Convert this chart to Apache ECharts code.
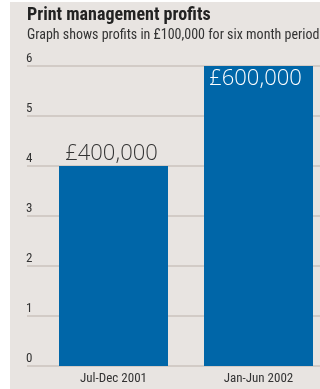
<!DOCTYPE html>
<html><head><meta charset="utf-8">
<style>html,body{margin:0;padding:0;background:#fff;}#c{position:absolute;left:0;top:0;width:320px;height:389px;background:linear-gradient(to right,#fff 0,#fff 10px,#e8e4e1 10px);}#c:before{content:"";position:absolute;left:0;top:0;width:320px;height:2px;background:#fff;}</style>
<script src="https://cdn.jsdelivr.net/npm/echarts@6/dist/echarts.min.js"></script>
</head><body><div id="c"></div>
<script>
const categories = ['Jul-Dec 2001', 'Jan-Jun 2002'];
const profits = [4, 6];
const valueLabels = ['£400,000', '£600,000'];
const yTicks = [0, 1, 2, 3, 4, 5, 6];

const chart = echarts.init(document.getElementById('c'), null, {renderer: 'canvas'});
const condensed = '"Liberation Sans Narrow", "Roboto Condensed", "Liberation Sans", sans-serif';
chart.setOption({
  backgroundColor: 'transparent',
  animation: false,
  title: {
    text: 'Print management profits',
    subtext: 'Graph shows profits in £100,000 for six month periods',
    left: 27, top: 6, itemGap: 4, padding: 0,
    textStyle: {fontFamily: condensed, fontWeight: 'bold', fontSize: 18, color: '#222'},
    subtextStyle: {fontFamily: condensed, fontSize: 14, color: '#333'}
  },
  grid: [
    {left: 27, right: 0, top: 66, height: 300},
    {left: 113.5, right: 61.5, top: 66, height: 300}
  ],
  xAxis: [
    {gridIndex: 0, type: 'value', show: false, min: 0, max: 1},
    {gridIndex: 1, type: 'category', data: categories, boundaryGap: false,
     axisLine: {show: false}, axisTick: {show: false}, splitLine: {show: false},
     axisLabel: {fontFamily: condensed, fontSize: 13, color: '#333', margin: 6}}
  ],
  yAxis: [
    {gridIndex: 0, type: 'value', min: yTicks[0], max: yTicks[yTicks.length - 1], interval: 1,
     axisLine: {show: false}, axisTick: {show: false},
     axisLabel: {inside: true, margin: -1, verticalAlign: 'bottom', padding: [0, 0, 1, 0],
                 fontFamily: condensed, fontSize: 13, color: '#333'},
     splitLine: {lineStyle: {color: '#d2cbc6', width: 2}}},
    {gridIndex: 1, type: 'value', min: 0, max: 6, interval: 1, show: false}
  ],
  series: [{
    type: 'bar', xAxisIndex: 1, yAxisIndex: 1, barWidth: 109, clip: false,
    itemStyle: {color: '#0066a8'},
    data: profits.map((v, i) => ({
      value: v,
      label: i === 0
        ? {show: true, position: 'top', distance: 1, offset: [-2, 0], color: '#333', formatter: valueLabels[i]}
        : {show: true, position: 'insideTop', distance: 2, offset: [-3, 0], color: '#fff', formatter: valueLabels[i]}
    })),
    label: {fontFamily: '"Open Sans", sans-serif', fontWeight: 300, fontSize: 22}
  }]
});
</script></body></html>
